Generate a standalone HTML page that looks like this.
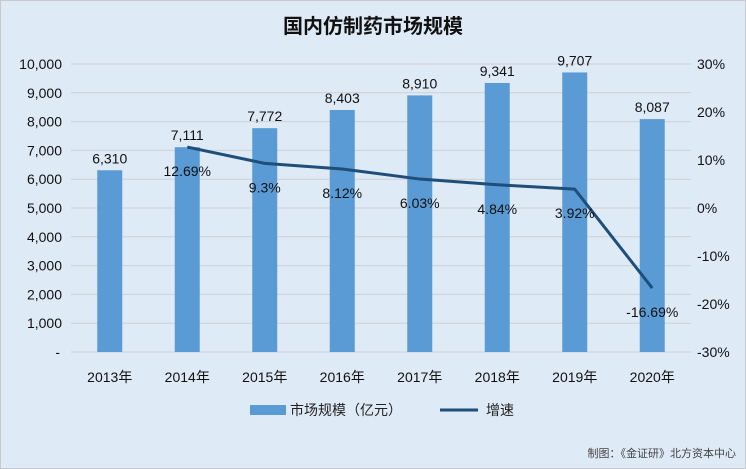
<!DOCTYPE html>
<html><head><meta charset="utf-8"><style>
body{margin:0;background:#fff}
svg{display:block;font-family:"Liberation Sans","Noto Sans CJK SC",sans-serif}
</style></head><body>
<svg width="746" height="469">
<rect x="0.5" y="0.5" width="745" height="468" fill="#deeaf6" stroke="#c9c9c9"/>
<text x="373" y="33" text-anchor="middle" font-size="20" font-weight="bold" fill="#111">国内仿制药市场规模</text>
<g id="grid"></g><g id="bars"></g><g id="line"></g><g id="labels"></g>
<g>
<rect x="250" y="405" width="36" height="10" fill="#5b9bd5"/>
<text x="290" y="415" font-size="14" fill="#222">市场规模（亿元）</text>
<line x1="440" y1="410" x2="478" y2="410" stroke="#1f4e79" stroke-width="3"/>
<text x="486" y="415" font-size="14" fill="#222">增速</text>
</g>
<text x="736" y="457" text-anchor="end" font-size="11" fill="#444">制图：《金证研》北方资本中心</text>
</svg>
<script>
const categories=["2013年","2014年","2015年","2016年","2017年","2018年","2019年","2020年"];
const sizes=[6310,7111,7772,8403,8910,9341,9707,8087];
const growth=[null,12.69,9.3,8.12,6.03,4.84,3.92,-16.69];
const leftTicks=[0,1000,2000,3000,4000,5000,6000,7000,8000,9000,10000];
const rightTicks=[-30,-20,-10,0,10,20,30];
const NS="http://www.w3.org/2000/svg";
const x0=71,x1=691,yTop=64,yBot=352;
const step=(x1-x0)/categories.length;
const xc=i=>x0+step*(i+0.5);
const yL=v=>yBot-(v/10000)*(yBot-yTop);
const yR=v=>yBot-((v+30)/60)*(yBot-yTop);
function mk(tag,attrs,parent,txt){const e=document.createElementNS(NS,tag);for(const k in attrs)e.setAttribute(k,attrs[k]);if(txt!=null)e.textContent=txt;document.getElementById(parent).appendChild(e);return e;}
leftTicks.forEach(t=>{
  const g=mk("line",{x1:x0,x2:x1,y1:yL(t),y2:yL(t),stroke:"#d0d0d0"},"grid");
  
  
  const l=mk("text",{x:t===0?60:62,y:yL(t)+5,"text-anchor":"end","font-size":14,fill:"#111"},"grid",t===0?"-":t.toLocaleString("en-US"));
  
  
});
rightTicks.forEach(t=>{
  const l=mk("text",{x:697,y:yR(t)+5,"font-size":14,fill:"#111"},"grid",t+"%");
  
  
});
categories.forEach((c,i)=>{
  const b=mk("rect",{x:xc(i)-12.5,y:yL(sizes[i]),width:25,height:yBot-yL(sizes[i]),fill:"#5b9bd5"},"bars");
  
  
  const v=mk("text",{x:xc(i),y:yL(sizes[i])-7,"text-anchor":"middle","font-size":14,fill:"#111"},"labels",sizes[i].toLocaleString("en-US"));
  
  
  const xl=mk("text",{x:xc(i),y:382,"text-anchor":"middle","font-size":14,fill:"#111"},"labels",c);
  
  
});
let pts=[];
growth.forEach((g,i)=>{if(g!==null)pts.push(xc(i)+","+yR(g));});
const pl=mk("polyline",{points:pts.join(" "),fill:"none",stroke:"#1f4e79","stroke-width":3,"stroke-linejoin":"round"},"line");


growth.forEach((g,i)=>{
  if(g===null)return;
  const t=mk("text",{x:xc(i),y:yR(g)+29,"text-anchor":"middle","font-size":14,fill:"#111"},"labels",g+"%");
  
  
});
</script>
</body></html>
